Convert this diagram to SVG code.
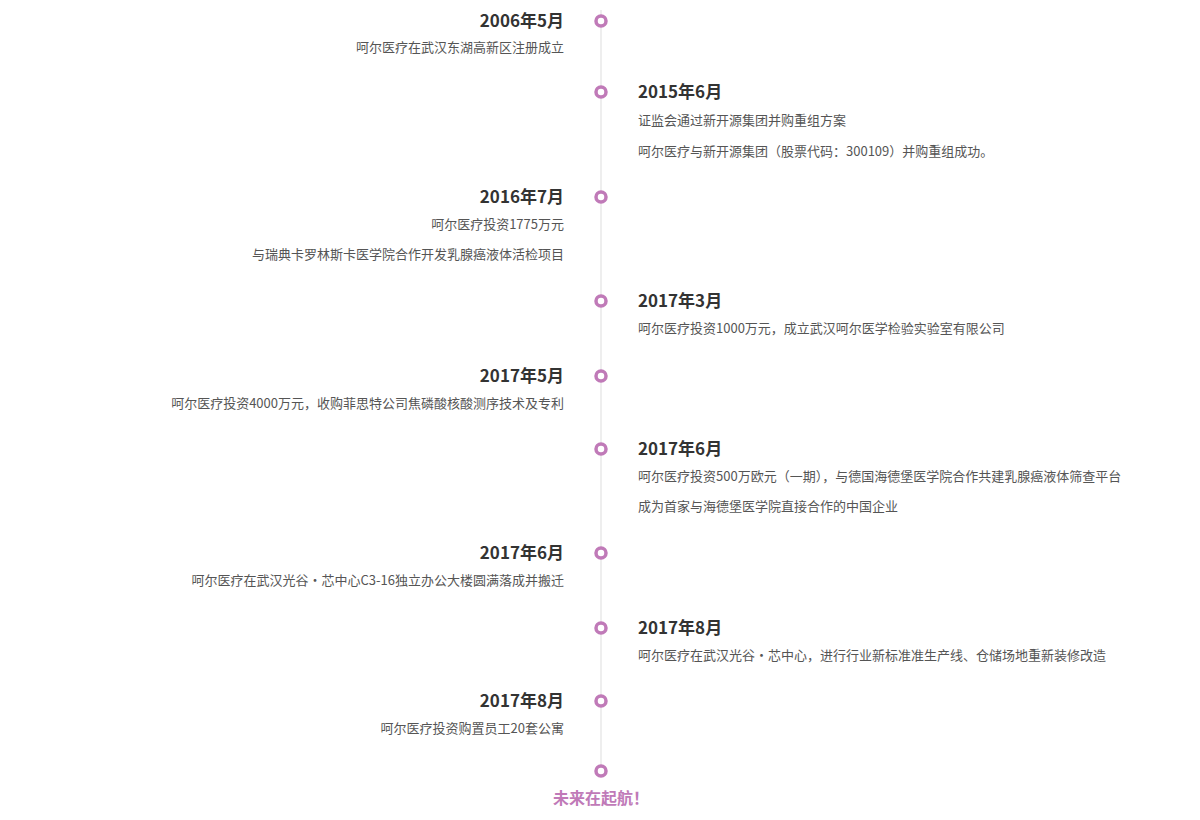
<svg xmlns="http://www.w3.org/2000/svg" width="1200" height="820" viewBox="0 0 1200 820">
<style>
.t{font-family:"Noto Sans CJK SC","Noto Sans",sans-serif;font-weight:bold;font-size:17px;fill:#333}
.d{font-family:"Noto Sans CJK SC","Noto Sans",sans-serif;font-size:13px;fill:#555}
.l{text-anchor:end}
.dot{fill:#fff;stroke:#c07ab8;stroke-width:3.5}
</style>
<rect width="1200" height="820" fill="#fff"/>
<g id="connectors"><line x1="601" y1="10" x2="601" y2="765" stroke="#eeeeee" stroke-width="2"/></g>
<g id="n1"><circle class="dot" cx="601" cy="21" r="5"/><text class="t l" x="564" y="27">2006年5月</text><text class="d l" x="564" y="52">呵尔医疗在武汉东湖高新区注册成立</text></g>
<g id="n2"><circle class="dot" cx="601" cy="92" r="5"/><text class="t" x="638" y="98">2015年6月</text><text class="d" x="638" y="125">证监会通过新开源集团并购重组方案</text><text class="d" x="638" y="156">呵尔医疗与新开源集团（股票代码：300109）并购重组成功。</text></g>
<g id="n3"><circle class="dot" cx="601" cy="197" r="5"/><text class="t l" x="564" y="203">2016年7月</text><text class="d l" x="564" y="229">呵尔医疗投资1775万元</text><text class="d l" x="564" y="259">与瑞典卡罗林斯卡医学院合作开发乳腺癌液体活检项目</text></g>
<g id="n4"><circle class="dot" cx="601" cy="301" r="5"/><text class="t" x="638" y="307">2017年3月</text><text class="d" x="638" y="333">呵尔医疗投资1000万元，成立武汉呵尔医学检验实验室有限公司</text></g>
<g id="n5"><circle class="dot" cx="601" cy="376" r="5"/><text class="t l" x="564" y="382">2017年5月</text><text class="d l" x="564" y="408">呵尔医疗投资4000万元，收购菲思特公司焦磷酸核酸测序技术及专利</text></g>
<g id="n6"><circle class="dot" cx="601" cy="449" r="5"/><text class="t" x="638" y="455">2017年6月</text><text class="d" x="638" y="481">呵尔医疗投资500万欧元（一期），与德国海德堡医学院合作共建乳腺癌液体筛查平台</text><text class="d" x="638" y="511">成为首家与海德堡医学院直接合作的中国企业</text></g>
<g id="n7"><circle class="dot" cx="601" cy="553" r="5"/><text class="t l" x="564" y="559">2017年6月</text><text class="d l" x="564" y="585">呵尔医疗在武汉光谷·芯中心C3-16独立办公大楼圆满落成并搬迁</text></g>
<g id="n8"><circle class="dot" cx="601" cy="628" r="5"/><text class="t" x="638" y="634">2017年8月</text><text class="d" x="638" y="660">呵尔医疗在武汉光谷·芯中心，进行行业新标准准生产线、仓储场地重新装修改造</text></g>
<g id="n9"><circle class="dot" cx="601" cy="701" r="5"/><text class="t l" x="564" y="707">2017年8月</text><text class="d l" x="564" y="733">呵尔医疗投资购置员工20套公寓</text></g>
<g id="end"><circle class="dot" cx="601" cy="771" r="5"/><text x="601" y="804" text-anchor="middle" style="font-family:'Noto Sans CJK SC',sans-serif;font-weight:bold;font-size:16px;fill:#c07ab8">未来在起航！</text></g>
</svg>
